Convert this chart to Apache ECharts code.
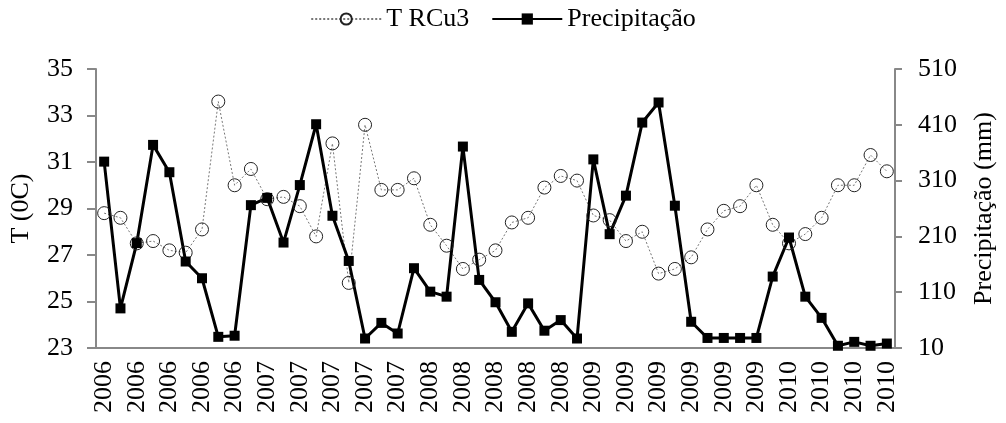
<!DOCTYPE html>
<html>
<head>
<meta charset="utf-8">
<script src="https://cdn.jsdelivr.net/npm/echarts@6/dist/echarts.min.js"></script>
<style>
  html, body { margin: 0; padding: 0; background: #fff; }
  #chart { width: 1006px; height: 423px; }
</style>
</head>
<body>
<div id="chart"></div>
<script>
// year label for every point (only every other one gets printed)
var years = [
  '2006','2006','2006','2006','2006','2006','2006','2006','2006','2006',
  '2007','2007','2007','2007','2007','2007','2007','2007','2007','2007',
  '2008','2008','2008','2008','2008','2008','2008','2008','2008','2008',
  '2009','2009','2009','2009','2009','2009','2009','2009','2009','2009','2009','2009',
  '2010','2010','2010','2010','2010','2010','2010'
]

var tempRCu3 = [
  28.8, 28.6, 27.5, 27.6, 27.2, 27.1, 28.1, 33.6, 30.0, 30.7,
  29.4, 29.5, 29.1, 27.8, 31.8, 25.8, 32.6, 29.8, 29.8, 30.3,
  28.3, 27.4, 26.4, 26.8, 27.2, 28.4, 28.6, 29.9, 30.4, 30.2,
  28.7, 28.5, 27.6, 28.0, 26.2, 26.4, 26.9, 28.1, 28.9, 29.1, 30.0, 28.3,
  27.5, 27.9, 28.6, 30.0, 30.0, 31.3, 30.6
]

var precip = [
  344, 81, 198, 374, 325, 165, 135, 30, 32, 266,
  279, 199, 302, 411, 247, 166, 27, 55, 36, 153,
  111, 102, 371, 132, 92, 39, 90, 41, 60, 27,
  348, 214, 283, 414, 450, 265, 57, 28, 28, 28, 28, 138,
  208, 102, 64, 14, 21, 14, 18
]

var font = 'Liberation Serif'
var axisGray = '#888888'

var myChart = echarts.init(document.getElementById('chart'))

var option = {
  animation: false,
  textStyle: { fontFamily: font, color: '#000' },
  legend: {
    top: 1,
    left: 'center',
    itemWidth: 70,
    itemHeight: 14,
    itemGap: 22,
    textStyle: { fontFamily: font, fontSize: 26, color: '#000' },
    data: ['T RCu3', 'Precipitação']
  },
  grid: { left: 93, right: 111, top: 69, bottom: 75 },
  xAxis: {
    type: 'category',
    data: years,
    boundaryGap: true,
    axisLine: { lineStyle: { color: axisGray, width: 2 } },
    axisTick: { interval: 0, length: 7, lineStyle: { color: axisGray, width: 2 } },
    axisLabel: {
      interval: 1,
      rotate: 90,
      margin: 13,
      fontFamily: font,
      fontSize: 26,
      color: '#000'
    }
  },
  yAxis: [{
    type: 'value',
    min: 23,
    max: 35,
    interval: 2,
    name: 'T (0C)',
    nameLocation: 'middle',
    nameGap: 62,
    nameTextStyle: { fontFamily: font, fontSize: 26, color: '#000' },
    splitLine: { show: false },
    axisLine: { show: true, lineStyle: { color: axisGray, width: 2 } },
    axisTick: { show: true, length: 9, lineStyle: { color: axisGray, width: 2 } },
    axisLabel: { margin: 23, fontFamily: font, fontSize: 26, color: '#000' }
  }, {
    type: 'value',
    min: 10,
    max: 510,
    interval: 100,
    position: 'right',
    name: 'Precipitação (mm)',
    nameLocation: 'middle',
    nameGap: 76,
    nameTextStyle: { fontFamily: font, fontSize: 26, color: '#000' },
    splitLine: { show: false },
    axisLine: { show: true, lineStyle: { color: axisGray, width: 2 } },
    axisTick: { show: true, length: 7, lineStyle: { color: axisGray, width: 2 } },
    axisLabel: { margin: 23, fontFamily: font, fontSize: 26, color: '#000' }
  }],
  series: [{
    name: 'T RCu3',
    type: 'line',
    yAxisIndex: 0,
    data: tempRCu3,
    symbol: 'circle',
    symbolSize: 13,
    showAllSymbol: true,
    lineStyle: { color: '#777', width: 1, type: [2, 2] },
    itemStyle: { color: 'rgba(255,255,255,0)', borderColor: '#222', borderWidth: 1 }
  }, {
    name: 'Precipitação',
    type: 'line',
    yAxisIndex: 1,
    data: precip,
    symbol: 'rect',
    symbolSize: 10,
    showAllSymbol: true,
    lineStyle: { color: '#000', width: 3 },
    itemStyle: { color: '#000' }
  }]
}

myChart.setOption(option)
</script>
</body>
</html>
